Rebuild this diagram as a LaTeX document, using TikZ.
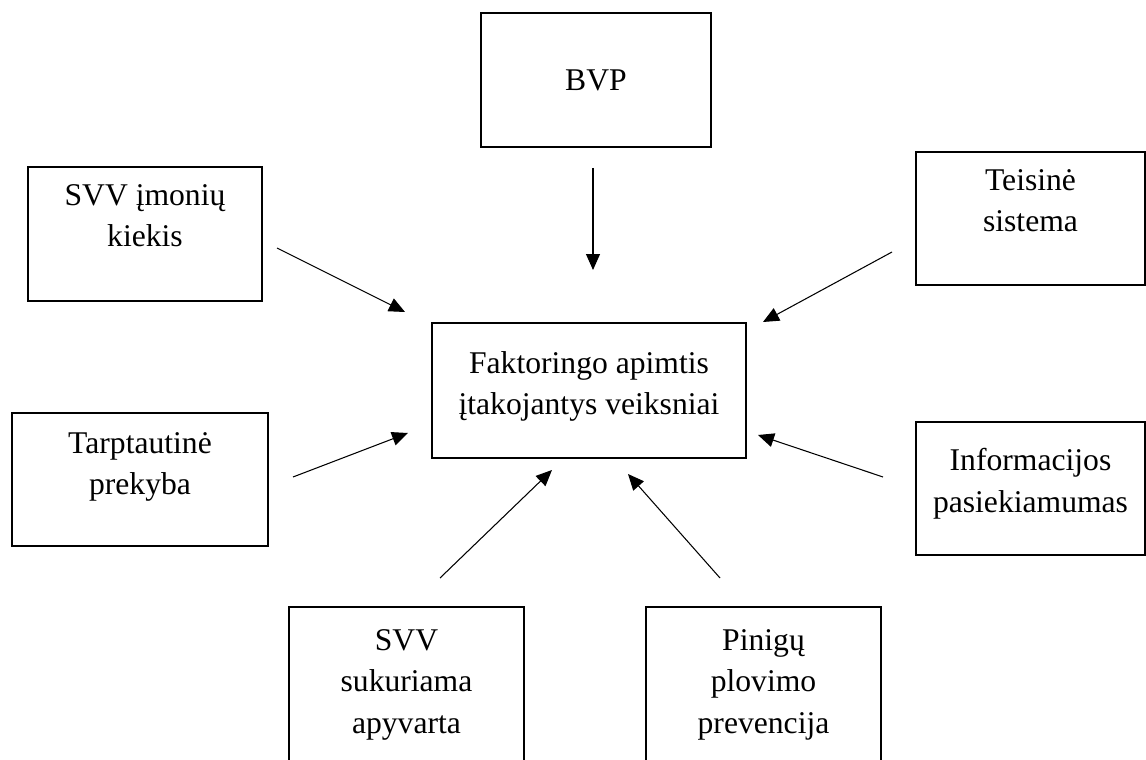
\documentclass[tikz,border=0pt]{standalone}
\usepackage{fontspec}
\setmainfont{Liberation Serif}
\usepackage{tikz}
\usetikzlibrary{calc}
\usetikzlibrary{arrows.meta}
\tikzstyle{factorbox} = [draw, rectangle, line width=0.8pt, inner sep=0pt]
\tikzstyle{boxtext} = [anchor=north, inner sep=0pt, align=center, font=\fontsize{18}{23.5}\selectfont]
\tikzstyle{influence} = [line width=0.6pt, -{Triangle[length=0.32cm,width=0.28cm]}]

\begin{document}
\begin{tikzpicture}[x=0.02cm, y=-0.02cm]
\useasboundingbox (0,0) rectangle (1146,760);
\clip (0,0) rectangle (1146,760);

\node[factorbox, minimum width=6.28cm, minimum height=2.7cm] (factoring) at (589,390.5) {};
\node[boxtext] (factoring_text) at ($(factoring.north)+(0,29)$) {Faktoringo apimtis\\įtakojantys veiksniai};

\node[factorbox, minimum width=4.6cm, minimum height=2.68cm] (bvp) at (596,80) {};
\node[boxtext] (bvp_text) at ($(bvp.north)+(0,57)$) {BVP};

\node[factorbox, minimum width=4.68cm, minimum height=2.68cm] (smb_count) at (145,234) {};
\node[boxtext] (smb_count_text) at ($(smb_count.north)+(0,18)$) {SVV įmonių\\kiekis};

\node[factorbox, minimum width=4.58cm, minimum height=2.66cm] (legal) at (1030.5,218.5) {};
\node[boxtext] (legal_text) at ($(legal.north)+(0,18)$) {Teisinė\\sistema};

\node[factorbox, minimum width=5.12cm, minimum height=2.66cm] (trade) at (140,479.5) {};
\node[boxtext] (trade_text) at ($(trade.north)+(0,20)$) {Tarptautinė\\prekyba};

\node[factorbox, minimum width=4.58cm, minimum height=2.66cm] (info) at (1030.5,488.5) {};
\node[boxtext] (info_text) at ($(info.north)+(0,27)$) {Informacijos\\pasiekiamumas};

\node[factorbox, minimum width=4.7cm, minimum height=3.86cm] (turnover) at (406.5,703.5) {};
\node[boxtext] (turnover_text) at ($(turnover.north)+(0,23)$) {SVV\\sukuriama\\apyvarta};

\node[factorbox, minimum width=4.7cm, minimum height=3.86cm] (aml) at (763.5,703.5) {};
\node[boxtext] (aml_text) at ($(aml.north)+(0,23)$) {Pinigų\\plovimo\\prevencija};

% arrow ends
\coordinate (bvp_out) at (593,168);
\coordinate (bvp_in) at (593,270);
\coordinate (smb_count_out) at (277,248);
\coordinate (smb_count_in) at (405,312);
\coordinate (legal_out) at (892,252);
\coordinate (legal_in) at (763,322);
\coordinate (trade_out) at (293,477);
\coordinate (trade_in) at (408,433);
\coordinate (info_out) at (883,477);
\coordinate (info_in) at (758,435);
\coordinate (turnover_out) at (440,578);
\coordinate (turnover_in) at (552,470);
\coordinate (aml_out) at (720,578);
\coordinate (aml_in) at (628,474);

\draw[influence] (bvp_out) -- (bvp_in);
\draw[influence] (smb_count_out) -- (smb_count_in);
\draw[influence] (legal_out) -- (legal_in);
\draw[influence] (trade_out) -- (trade_in);
\draw[influence] (info_out) -- (info_in);
\draw[influence] (turnover_out) -- (turnover_in);
\draw[influence] (aml_out) -- (aml_in);
\end{tikzpicture}
\end{document}
